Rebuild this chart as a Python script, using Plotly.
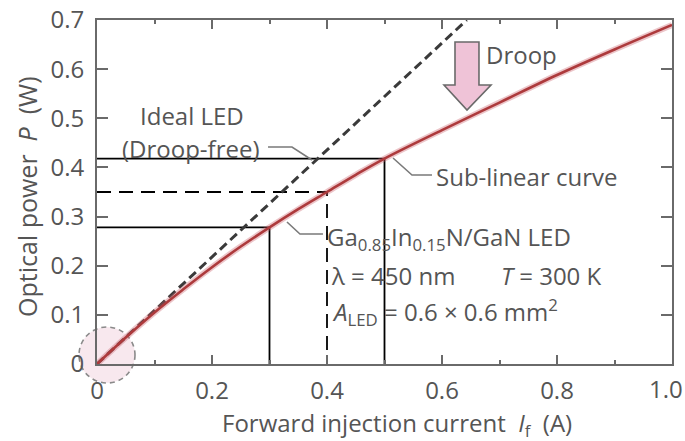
import plotly.graph_objects as go

# ---- data ----
current = [0.0, 0.05, 0.1, 0.15, 0.2, 0.25, 0.3, 0.35, 0.4, 0.45, 0.5, 0.6, 0.7, 0.8, 0.9, 1.0]
power = [0.0, 0.054, 0.105, 0.152, 0.197, 0.239, 0.278, 0.315, 0.350, 0.385, 0.418, 0.476, 0.532, 0.588, 0.640, 0.690]

ideal_current = [0.0, 0.643]
ideal_power = [0.0, 0.70]

ref_current = [0.3, 0.4, 0.5]
ref_power = [0.278, 0.350, 0.418]
ref_dash = ["solid", "dash", "solid"]

x_ticks = [0, 0.2, 0.4, 0.6, 0.8, 1.0]
x_ticklabels = ["0", "0.2", "0.4", "0.6", "0.8", "1.0"]
y_ticks = [0, 0.1, 0.2, 0.3, 0.4, 0.5, 0.6, 0.7]
y_ticklabels = ["0", "0.1", "0.2", "0.3", "0.4", "0.5", "0.6", "0.7"]

FONT = "Open Sans"
TXT = "#555555"
FS = 24

W, H = 685, 441
L, R, T, B = 97, 13, 20, 77
PW, PH = W - L - R, H - T - B


def px(xp):
    return (xp - L) / PW


def py(yp):
    return (H - B - yp) / PH


fig = go.Figure()

# reference lines
for xc, yc, d in zip(ref_current, ref_power, ref_dash):
    fig.add_trace(go.Scatter(
        x=[0, xc, xc], y=[yc, yc, 0], mode="lines",
        line=dict(color="black", width=1.8, dash="14px,8px" if d == "dash" else "solid"),
        hoverinfo="skip", showlegend=False))

# ideal line
fig.add_trace(go.Scatter(
    x=ideal_current, y=ideal_power, mode="lines",
    line=dict(color="#3a3a3a", width=3, dash="9px,5px"),
    showlegend=False))

# sub-linear curve (halo + line)
fig.add_trace(go.Scatter(
    x=current, y=power, mode="lines", line=dict(color="rgba(200,90,100,0.35)", width=6, shape="spline"),
    hoverinfo="skip", showlegend=False))
fig.add_trace(go.Scatter(
    x=current, y=power, mode="lines", line=dict(color="#ad3a3c", width=2.6, shape="spline"),
    showlegend=False))

shapes = []
# dashed circle at origin
shapes.append(dict(type="circle", xref="paper", yref="paper",
                   x0=px(79), x1=px(135), y0=py(383), y1=py(327),
                   line=dict(color="#8a8a8a", width=1.6, dash="5px,4px"),
                   fillcolor="rgba(235,190,205,0.35)", layer="below"))

# droop arrow
arrow_pts = [(455, 42), (479, 42), (479, 85), (491, 85), (467, 110), (444, 85), (455, 85)]
path = "M " + " L ".join(f"{px(a):.4f},{py(b):.4f}" for a, b in arrow_pts) + " Z"
shapes.append(dict(type="path", xref="paper", yref="paper", path=path,
                   fillcolor="#efc3d7", line=dict(color="#6a6a6a", width=1.6)))

# leader lines
for pts in ([(268, 147), (292, 147), (312, 160)],
            [(393, 158), (412, 175), (432, 175)],
            [(287, 222), (300, 234), (323, 234)]):
    p = "M " + " L ".join(f"{px(a):.4f},{py(b):.4f}" for a, b in pts)
    shapes.append(dict(type="path", xref="paper", yref="paper", path=p,
                       line=dict(color="#7a7a7a", width=1.6)))

annotations = []


def ann(text, x, y, xanchor="left", size=FS, angle=0):
    annotations.append(dict(text=text, xref="paper", yref="paper", x=px(x), y=py(y),
                            xanchor=xanchor, yanchor="middle", showarrow=False,
                            textangle=angle, font=dict(family=FONT, size=size, color=TXT)))


ann("Ideal LED", 192, 115, "center")
ann("(Droop-free)", 191, 148, "center")
ann("Droop", 484, 55)
ann("Sub-linear curve", 434, 176)
ann("Ga<sub>0.85</sub>In<sub>0.15</sub>N/GaN LED", 325, 238)
ann("λ = 450 nm", 329, 275)
ann("<i>T</i> = 300 K", 499, 275)
ann("<i>A</i><sub>LED</sub> = 0.6 × 0.6 mm<sup>2</sup>", 330, 312)
ann("Forward injection current  <i>I</i><sub>f</sub>  (A)", 397, 424, "center")
ann("Optical power  <i>P</i>  (W)", 27, 197, "center", size=25, angle=-90)
# last x tick label, kept inside the page like the reference
ann(x_ticklabels[-1], 685, 389, "right")

shown_x_labels = x_ticklabels[:-1] + [""]

fig.update_layout(
    width=W, height=H, autosize=False,
    margin=dict(l=L, r=R, t=T, b=B, pad=0, autoexpand=False),
    paper_bgcolor="white", plot_bgcolor="white",
    font=dict(family=FONT, size=FS, color=TXT),
    shapes=shapes, annotations=annotations,
    xaxis=dict(range=[0, 1.0], tickvals=x_ticks, ticktext=shown_x_labels, automargin=False,
               showgrid=False, zeroline=False, showline=True, linecolor="#6a6a6a", linewidth=2,
               mirror="ticks", ticks="inside", ticklen=9, tickwidth=2, tickcolor="#6a6a6a",
               ticklabelstandoff=4, ticklabeloverflow="allow",
               minor=dict(dtick=0.1, ticks="inside", ticklen=4, tickwidth=2, tickcolor="#6a6a6a", showgrid=False),
               tickfont=dict(family=FONT, size=FS, color=TXT)),
    yaxis=dict(range=[0, 0.7], tickvals=y_ticks, ticktext=y_ticklabels, automargin=False,
               showgrid=False, zeroline=False, showline=True, linecolor="#6a6a6a", linewidth=2,
               mirror="ticks", ticks="inside", ticklen=11, tickwidth=2, tickcolor="#6a6a6a",
               ticklabelstandoff=6, ticklabeloverflow="allow",
               tickfont=dict(family=FONT, size=FS, color=TXT)),
)

fig.write_html("out.html")
